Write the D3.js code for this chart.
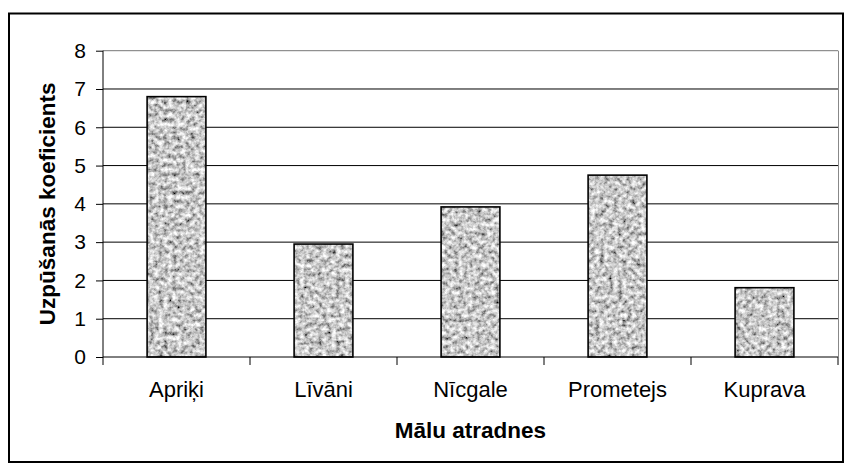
<!DOCTYPE html>
<html>
<head>
<meta charset="utf-8">
<script src="https://cdn.jsdelivr.net/npm/d3@7"></script>
<style>
  html, body { margin: 0; padding: 0; background: #fff; }
  svg { display: block; font-family: "Liberation Sans", Arial, sans-serif; }
</style>
</head>
<body>
<svg id="chart" width="844" height="464"></svg>
<script>
// Data
const categories = ["Apriķi", "Līvāni", "Nīcgale", "Prometejs", "Kuprava"];
const values = [6.8, 2.95, 3.92, 4.75, 1.81];
const yTicks = [0, 1, 2, 3, 4, 5, 6, 7, 8];
const xTitle = "Mālu atradnes";
const yTitle = "Uzpūšanās koeficients";

const svg = d3.select("#chart");
const plot = { left: 103, right: 838, top: 50.7, bottom: 357 };

const x = d3.scaleBand().domain(categories).range([plot.left, plot.right]).paddingInner(0.6).paddingOuter(0.3);
const xEdge = d3.scaleLinear().domain([0, categories.length]).range([plot.left, plot.right]);
const y = d3.scaleLinear().domain([0, 8]).range([plot.bottom, plot.top]);

// Granite-like texture for the bars
const defs = svg.append("defs");
const f = defs.append("filter").attr("id", "granite")
  .attr("x", 0).attr("y", 0).attr("width", 1).attr("height", 1)
  .attr("filterUnits", "objectBoundingBox");
f.append("feTurbulence").attr("type", "fractalNoise")
  .attr("baseFrequency", 0.22).attr("numOctaves", 3).attr("seed", 11).attr("result", "noise");
f.append("feColorMatrix").attr("in", "noise").attr("type", "matrix")
  .attr("values", "1.5 0 0 0 -0.17  1.5 0 0 0 -0.17  1.5 0 0 0 -0.17  0 0 0 0 1")
  .attr("result", "gray");
f.append("feGaussianBlur").attr("in", "gray").attr("stdDeviation", 0.6).attr("result", "soft");
f.append("feComposite").attr("in", "soft").attr("in2", "SourceGraphic").attr("operator", "in");

// Outer frame
svg.append("rect").attr("x", 9).attr("y", 13.5).attr("width", 834).attr("height", 448.5)
  .attr("fill", "none").attr("stroke", "#000").attr("stroke-width", 2);

// Plot area right border
svg.append("line").attr("x1", plot.right + 0.5).attr("x2", plot.right + 0.5)
  .attr("y1", plot.top).attr("y2", plot.bottom).attr("stroke", "#888").attr("stroke-width", 1);

// Gridlines
svg.append("g").selectAll("line").data(yTicks.filter(d => d > 0)).join("line")
  .attr("x1", plot.left).attr("x2", plot.right)
  .attr("y1", d => y(d)).attr("y2", d => y(d))
  .attr("stroke", d => d === 8 ? "#777" : "#000").attr("stroke-width", 1);

// Bars
const bars = svg.append("g");
bars.selectAll("rect.fill").data(values).join("rect").attr("class", "fill")
  .attr("x", (d, i) => x(categories[i])).attr("width", x.bandwidth())
  .attr("y", d => y(d)).attr("height", d => y(0) - y(d))
  .attr("fill", "#aaa").attr("filter", "url(#granite)");
bars.selectAll("rect.edge").data(values).join("rect").attr("class", "edge")
  .attr("x", (d, i) => x(categories[i])).attr("width", x.bandwidth())
  .attr("y", d => y(d)).attr("height", d => y(0) - y(d))
  .attr("fill", "none").attr("stroke", "#000").attr("stroke-width", 1.6);

// Y axis
const yAxis = d3.axisLeft(y).tickValues(yTicks).tickSize(7).tickPadding(10).tickFormat(d3.format("d"));
const gy = svg.append("g").attr("transform", `translate(${plot.left},0)`).call(yAxis);
gy.select(".domain").attr("stroke", "#000").attr("d", `M0,${plot.top}V${plot.bottom}`);
gy.selectAll(".tick line").attr("stroke", "#000");
gy.selectAll(".tick text").attr("font-size", 21).attr("fill", "#000")
  .attr("font-family", "Liberation Sans, Arial, sans-serif");

// X axis: line with ticks at category boundaries
const gx = svg.append("g").attr("transform", `translate(0,${plot.bottom})`);
gx.append("line").attr("x1", plot.left).attr("x2", plot.right).attr("stroke", "#000");
gx.selectAll("line.tk").data(d3.range(categories.length + 1)).join("line").attr("class", "tk")
  .attr("x1", d => xEdge(d)).attr("x2", d => xEdge(d)).attr("y1", 0).attr("y2", 8).attr("stroke", "#000");
gx.selectAll("text").data(categories).join("text")
  .attr("x", d => x(d) + x.bandwidth() / 2).attr("y", 40)
  .attr("text-anchor", "middle").attr("font-size", 22).attr("fill", "#000").text(d => d);

// Axis titles
svg.append("text").attr("x", (plot.left + plot.right) / 2).attr("y", 438)
  .attr("text-anchor", "middle").attr("font-size", 22.5).attr("font-weight", "bold").text(xTitle);
svg.append("text").attr("transform", `translate(55,${(plot.top + plot.bottom) / 2}) rotate(-90)`)
  .attr("text-anchor", "middle").attr("font-size", 22.5).attr("font-weight", "bold").text(yTitle);
</script>
</body>
</html>
